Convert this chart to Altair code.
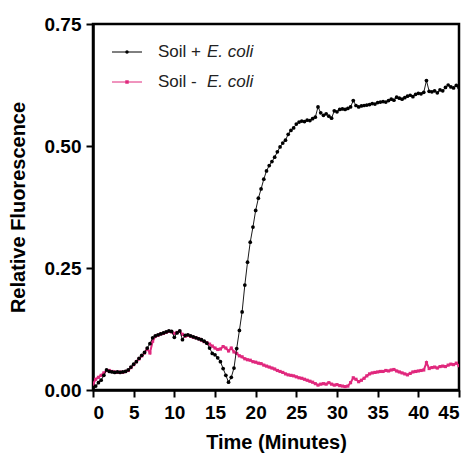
import altair as alt
import pandas as pd

# sampling grid: one reading every 20 s, 0..45 min
TIME = [round(i / 3, 3) for i in range(136)]

SOIL_PLUS = [
    0.005, 0.008, 0.015, 0.020, 0.030, 0.041, 0.038, 0.037, 0.036, 0.037,
    0.036, 0.037, 0.038, 0.041, 0.047, 0.053, 0.058, 0.065, 0.071, 0.077,
    0.086, 0.095, 0.107, 0.111, 0.113, 0.115, 0.117, 0.119, 0.121, 0.120,
    0.108, 0.117, 0.121, 0.103, 0.112, 0.113, 0.111, 0.109, 0.107, 0.105,
    0.103, 0.100, 0.096, 0.086, 0.075, 0.072, 0.066, 0.058, 0.044, 0.030,
    0.016, 0.026, 0.045, 0.085, 0.122, 0.160, 0.215, 0.262, 0.303, 0.334,
    0.368, 0.393, 0.412, 0.432, 0.449, 0.460, 0.468, 0.477, 0.488, 0.498,
    0.506, 0.512, 0.524, 0.532, 0.537, 0.545, 0.549, 0.551, 0.550, 0.553,
    0.552, 0.556, 0.559, 0.580, 0.568, 0.563, 0.566, 0.561, 0.557, 0.572,
    0.570, 0.575, 0.576, 0.575, 0.577, 0.580, 0.593, 0.583, 0.580, 0.582,
    0.583, 0.584, 0.585, 0.587, 0.586, 0.589, 0.590, 0.591, 0.590, 0.593,
    0.596, 0.594, 0.600, 0.598, 0.596, 0.599, 0.602, 0.604, 0.601, 0.606,
    0.608, 0.607, 0.610, 0.634, 0.612, 0.611, 0.613, 0.609, 0.615, 0.613,
    0.620, 0.625, 0.621, 0.619, 0.624, 0.620,
]

SOIL_MINUS = [
    0.012, 0.022, 0.026, 0.030, 0.035, 0.040, 0.040, 0.038, 0.037, 0.036,
    0.037, 0.036, 0.038, 0.040, 0.046, 0.052, 0.058, 0.064, 0.070, 0.076,
    0.084, 0.076, 0.100, 0.110, 0.112, 0.115, 0.116, 0.118, 0.120, 0.119,
    0.116, 0.118, 0.120, 0.114, 0.110, 0.112, 0.110, 0.108, 0.107, 0.105,
    0.102, 0.099, 0.097, 0.094, 0.090, 0.086, 0.083, 0.084, 0.089, 0.086,
    0.080, 0.086, 0.078, 0.075, 0.070, 0.068, 0.064, 0.062, 0.061, 0.058,
    0.057, 0.055, 0.054, 0.051, 0.049, 0.047, 0.045, 0.043, 0.040, 0.038,
    0.036, 0.033, 0.031, 0.030, 0.029, 0.027, 0.025, 0.024, 0.022, 0.020,
    0.018, 0.016, 0.013, 0.010, 0.012, 0.013, 0.012, 0.015, 0.012, 0.010,
    0.011, 0.009, 0.008, 0.007, 0.008, 0.015, 0.025, 0.022, 0.017, 0.020,
    0.024, 0.029, 0.033, 0.035, 0.036, 0.037, 0.038, 0.038, 0.040, 0.039,
    0.041, 0.042, 0.039, 0.037, 0.035, 0.033, 0.031, 0.034, 0.037, 0.038,
    0.039, 0.040, 0.041, 0.056, 0.044, 0.046, 0.047, 0.045, 0.048, 0.049,
    0.048, 0.051, 0.053, 0.052, 0.055, 0.050,
]

SERIES = ["Soil + E. coli", "Soil - E. coli"]
LEGEND_PLAIN = ["Soil +", "Soil -"]
LEGEND_ITALIC = ["E. coli", "E. coli"]
COLORS = ["#000000", "#E0287D"]
X_TICKS = [0, 5, 10, 15, 20, 25, 30, 35, 40, 45]
Y_TICKS = [0.0, 0.25, 0.5, 0.75]

FONT = "Liberation Sans"

plus_df = pd.DataFrame({"t": TIME, "v": SOIL_PLUS, "series": SERIES[0]})
minus_df = pd.DataFrame({"t": TIME, "v": SOIL_MINUS, "series": SERIES[1]})

x_enc = alt.X(
    "t:Q",
    scale=alt.Scale(domain=[0, 45], nice=False, zero=False),
    axis=alt.Axis(
        values=X_TICKS, format="d", title="Time (Minutes)", grid=False,
        titleX=183, titleY=52, titleBaseline="middle", titleAlign="center",
        labelPadding=6,
    ),
)
y_enc = alt.Y(
    "v:Q",
    scale=alt.Scale(domain=[0, 0.75], nice=False),
    axis=alt.Axis(
        values=Y_TICKS, format=".2f", title="Relative Fluorescence", grid=False,
        titleX=-75, titleY=183, titleAngle=270, titleBaseline="middle",
        titleAlign="center", labelPadding=5,
    ),
)


def series_layers(df, color, line_w, shape, size):
    line = alt.Chart(df).mark_line(color=color, strokeWidth=line_w, clip=True).encode(x=x_enc, y=y_enc)
    pts = alt.Chart(df).mark_point(
        color=color, filled=True, opacity=1, shape=shape, size=size, clip=True
    ).encode(x=x_enc, y=y_enc)
    return [line, pts]


layers = []
layers += series_layers(minus_df, COLORS[1], 2.0, "square", 10)
layers += series_layers(plus_df, COLORS[0], 0.9, "circle", 14)

# legend drawn inside the plot (top-left)
leg_df = pd.DataFrame({"plain": LEGEND_PLAIN, "ital": LEGEND_ITALIC})
LEG_Y = [28, 58]
for i in range(2):
    row = leg_df.iloc[[i]]
    layers.append(
        alt.Chart(row).mark_rule(color=COLORS[i], strokeWidth=1).encode(
            x=alt.value(19), x2=alt.value(49), y=alt.value(LEG_Y[i])
        )
    )
    layers.append(
        alt.Chart(row).mark_point(
            color=COLORS[i], filled=True, opacity=1,
            shape="circle" if i == 0 else "square", size=12
        ).encode(x=alt.value(34), y=alt.value(LEG_Y[i]))
    )
    layers.append(
        alt.Chart(row).mark_text(
            align="left", baseline="middle", font=FONT, fontSize=17, color="#222"
        ).encode(x=alt.value(65), y=alt.value(LEG_Y[i]), text="plain:N")
    )
    layers.append(
        alt.Chart(row).mark_text(
            align="left", baseline="middle", font=FONT, fontSize=17,
            fontStyle="italic", color="#222"
        ).encode(x=alt.value(114), y=alt.value(LEG_Y[i]), text="ital:N")
    )

chart = alt.layer(*layers).properties(
    width=366, height=366,
    padding={"left": 85, "top": 16, "right": 5, "bottom": 66},
    autosize=alt.AutoSizeParams(type="none"),
).configure_view(
    stroke="black", strokeWidth=2.5
).configure_axis(
    domainColor="black", domainWidth=2.5, tickColor="black", tickWidth=2,
    tickSize=7, labelFont=FONT, labelFontSize=19, labelFontWeight="bold",
    labelColor="black", titleFont=FONT, titleFontSize=20, titleFontWeight="bold",
    titleColor="black",
)

chart.save("out.html", embed_options={"renderer": "svg", "actions": False})
